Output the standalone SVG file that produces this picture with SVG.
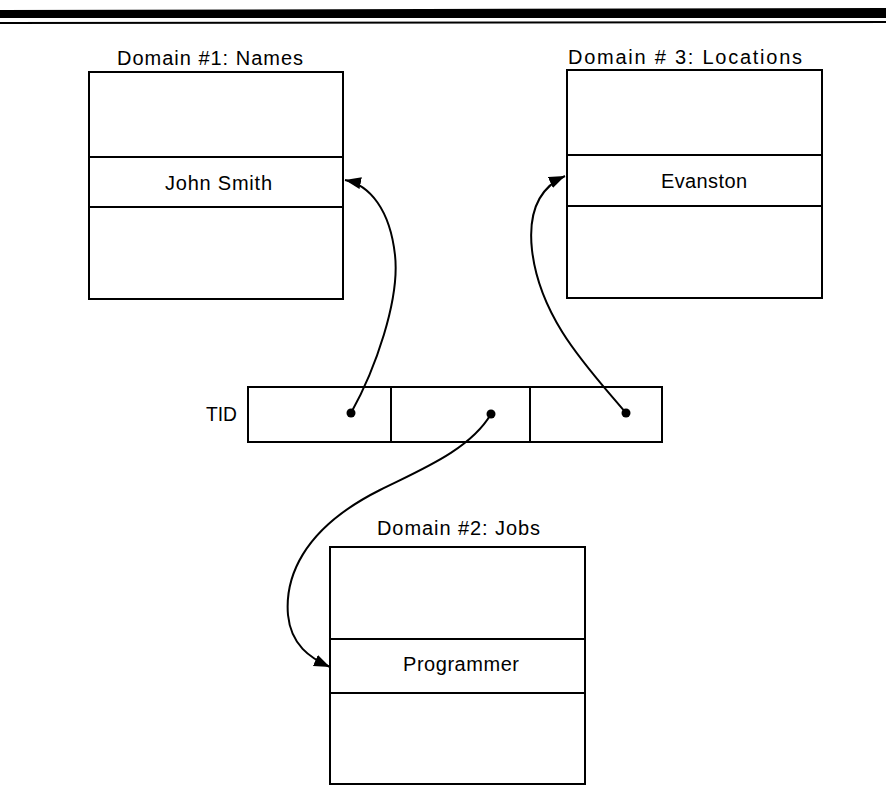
<svg xmlns="http://www.w3.org/2000/svg" width="886" height="786" viewBox="0 0 886 786">
<style>
.box{fill:none;stroke:#000;stroke-width:2}
.ln{stroke:#000;stroke-width:2}
.t{font-family:"Liberation Sans",Arial,sans-serif;font-size:20px;fill:#000}
.c{fill:none;stroke:#000;stroke-width:2}
</style>
<defs>
<marker id="ah" markerUnits="userSpaceOnUse" markerWidth="18" markerHeight="14" refX="16" refY="6" orient="auto">
<path d="M0,0 L16,6 L0,12 z" fill="#000"/>
</marker>
</defs>
<rect width="886" height="786" fill="#fff"/>
<g id="rule">
<polygon points="0,10 886,8 886,18 0,18" fill="#000"/>
<line x1="0" y1="23" x2="886" y2="22" stroke="#000" stroke-width="2"/>
</g>
<g id="domain1">
<text class="t" x="117" y="65" textLength="186" lengthAdjust="spacing">Domain #1: Names</text>
<rect class="box" x="89" y="72" width="254" height="227"/>
<line class="ln" x1="89" y1="157" x2="343" y2="157"/>
<line class="ln" x1="89" y1="207" x2="343" y2="207"/>
<text class="t" x="165" y="190" textLength="107" lengthAdjust="spacing">John Smith</text>
</g>
<g id="domain3">
<text class="t" x="568" y="64" textLength="234" lengthAdjust="spacing">Domain # 3: Locations</text>
<rect class="box" x="567" y="70" width="255" height="228"/>
<line class="ln" x1="567" y1="155" x2="822" y2="155"/>
<line class="ln" x1="567" y1="206" x2="822" y2="206"/>
<text class="t" x="661" y="188" textLength="86" lengthAdjust="spacing">Evanston</text>
</g>
<g id="tid">
<text class="t" x="206" y="421" textLength="31" lengthAdjust="spacingAndGlyphs">TID</text>
<rect class="box" x="248" y="387" width="414" height="55"/>
<line class="ln" x1="391" y1="387" x2="391" y2="442"/>
<line class="ln" x1="530" y1="387" x2="530" y2="442"/>
</g>
<g id="domain2">
<text class="t" x="377" y="535" textLength="163" lengthAdjust="spacing">Domain #2: Jobs</text>
<rect class="box" x="330" y="547" width="255" height="237"/>
<line class="ln" x1="330" y1="639" x2="585" y2="639"/>
<line class="ln" x1="330" y1="693" x2="585" y2="693"/>
<text class="t" x="403" y="671" textLength="116" lengthAdjust="spacing">Programmer</text>
</g>
<g id="connectors">
<path class="c" d="M351,413 C375,370 400,300 395,255 C390,210 370,185 345,180" marker-end="url(#ah)"/>
<path class="c" d="M626,413 C590,370 540,320 532,250 C527,205 545,185 565,176" marker-end="url(#ah)"/>
<path class="c" d="M491,414 C470,450 420,470 380,490 C300,530 285,580 288,615 C291,645 310,658 330,667" marker-end="url(#ah)"/>
<circle cx="351" cy="413" r="4.5" fill="#000"/>
<circle cx="626" cy="413" r="4.5" fill="#000"/>
<circle cx="491" cy="414" r="4.5" fill="#000"/>
</g>
</svg>
